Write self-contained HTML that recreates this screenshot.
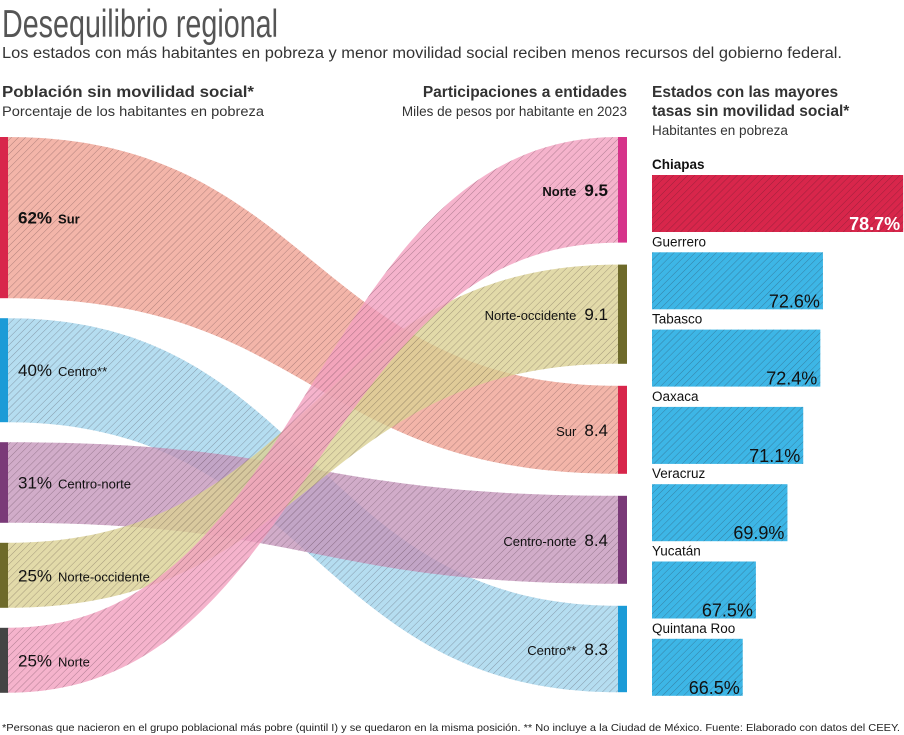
<!DOCTYPE html>
<html><head><meta charset="utf-8">
<style>
html,body{margin:0;padding:0;background:#fff;}
svg{display:block;font-family:"Liberation Sans",sans-serif;}
</style></head>
<body>
<svg id="chart" width="904" height="735" viewBox="0 0 904 735">
<defs>
<pattern id="hatch" patternUnits="userSpaceOnUse" width="5" height="5" patternTransform="rotate(45)">
<line x1="0" y1="0" x2="0" y2="5" stroke="rgba(40,20,30,0.33)" stroke-width="1"/>
</pattern>
</defs>
<text x="2" y="37" font-family="'Liberation Sans Narrow','Liberation Sans',sans-serif" font-size="39" fill="#555" textLength="276" lengthAdjust="spacingAndGlyphs">Desequilibrio regional</text>
<text x="2" y="58" font-size="15.5" fill="#333" textLength="840" lengthAdjust="spacingAndGlyphs">Los estados con más habitantes en pobreza y menor movilidad social reciben menos recursos del gobierno federal.</text>
<text x="2" y="97" font-size="15.5" font-weight="bold" fill="#333" textLength="252" lengthAdjust="spacingAndGlyphs">Población sin movilidad social*</text>
<text x="2" y="116" font-size="13.5" fill="#333" textLength="262" lengthAdjust="spacingAndGlyphs">Porcentaje de los habitantes en pobreza</text>
<text x="627" y="97" font-size="15.5" font-weight="bold" fill="#333" text-anchor="end">Participaciones a entidades</text>
<text x="627" y="116" font-size="13.5" fill="#333" text-anchor="end">Miles de pesos por habitante en 2023</text>
<text x="652" y="97" font-size="15.5" font-weight="bold" fill="#333">Estados con las mayores</text>
<text x="652" y="116" font-size="15.5" font-weight="bold" fill="#333">tasas sin movilidad social*</text>
<text x="652" y="135" font-size="13.5" fill="#333">Habitantes en pobreza</text>
<g id="flows"></g>
<g id="bars"></g>
<text x="2" y="731" font-size="10.5" fill="#222" textLength="898" lengthAdjust="spacingAndGlyphs">*Personas que nacieron en el grupo poblacional más pobre (quintil I) y se quedaron en la misma posición. ** No incluye a la Ciudad de México. Fuente: Elaborado con datos del CEEY.</text>
</svg>
<script>
const regions = ['Sur','Centro','Centro-norte','Norte-occidente','Norte'];
const regionLabels = ['Sur','Centro**','Centro-norte','Norte-occidente','Norte'];
const leftPct = [62,40,31,25,25];
const rightOrder = ['Norte','Norte-occidente','Sur','Centro-norte','Centro'];
const rightVals = [9.5,9.1,8.4,8.4,8.3];
const states = ['Chiapas','Guerrero','Tabasco','Oaxaca','Veracruz','Yucatán','Quintana Roo'];
const stateVals = [78.7,72.6,72.4,71.1,69.9,67.5,66.5];

const NS='http://www.w3.org/2000/svg';
const barColor={'Sur':'#d8264b','Centro':'#1b9bd7','Centro-norte':'#7a3a78','Norte-occidente':'#6e6a2a','Norte':'#444'};
const rightBarColor={'Sur':'#d8264b','Centro':'#1b9bd7','Centro-norte':'#7a3a78','Norte-occidente':'#6e6a2a','Norte':'#d6338a'};
const flowColor={'Sur':'#f0a294','Centro':'#a2d4ec','Centro-norte':'#c597bb','Norte-occidente':'#dbd193','Norte':'#f2a0bf'};
function mk(tag,attrs,parent){const e=document.createElementNS(NS,tag);for(const k in attrs)e.setAttribute(k,attrs[k]);parent.appendChild(e);return e;}

const leftScale=p=>p*2.6, leftGap=20, leftTop=137;
const rightScale=v=>(v-2.9)*16, rightGap=22, rightTop=137;
const L={},R={};
let y=leftTop;
regions.forEach((r,i)=>{const h=leftScale(leftPct[i]);L[r]={y0:y,y1:y+h,i};y+=h+leftGap;});
y=rightTop;
rightOrder.forEach((r,i)=>{const h=rightScale(rightVals[i]);R[r]={y0:y,y1:y+h,i};y+=h+rightGap;});

const flows=document.getElementById('flows');
const x0=8,x1=618,cx=(x0+x1)/2;
regions.forEach(r=>{
  const a=L[r],b=R[r];
  const d=`M${x0},${a.y0} C${cx},${a.y0} ${cx},${b.y0} ${x1},${b.y0} L${x1},${b.y1} C${cx},${b.y1} ${cx},${a.y1} ${x0},${a.y1} Z`;
  const p=mk('path',{d,fill:flowColor[r],'fill-opacity':'0.8'},flows);
  
  
  const h=mk('path',{d,fill:'url(#hatch)'},flows);
  
  
});
const bars=document.getElementById('bars');
regions.forEach((r,i)=>{
  const a=L[r];
  const b=mk('rect',{x:0,y:a.y0,width:8,height:a.y1-a.y0,fill:barColor[r]},bars);
  
  
  const t=mk('text',{x:18,y:(a.y0+a.y1)/2+6,'font-size':17,fill:'#111','font-weight':i==0?'bold':'normal'},bars);
  
  
  const s1=mk('tspan',{},t);s1.textContent=leftPct[i]+'%';
  const s2=mk('tspan',{'font-size':13,dx:6},t);s2.textContent=regionLabels[i];
});
rightOrder.forEach((r,i)=>{
  const a=R[r];
  const b=mk('rect',{x:618,y:a.y0,width:9,height:a.y1-a.y0,fill:rightBarColor[r]},bars);
  
  
  const t=mk('text',{x:608,y:(a.y0+a.y1)/2+6,'font-size':17,fill:'#111','text-anchor':'end','font-weight':i==0?'bold':'normal'},bars);
  
  
  const lab=regionLabels[regions.indexOf(r)];
  const s1=mk('tspan',{'font-size':13},t);s1.textContent=lab;
  const s2=mk('tspan',{dx:8},t);s2.textContent=rightVals[i].toFixed(1);
});
const sx=v=>(v-59.6)*13.15;
states.forEach((s,i)=>{
  const yy=175+i*77.3, w=sx(stateVals[i]), h=57;
  const lab=mk('text',{x:652,y:yy-6,'font-size':13.5,fill:'#111','font-weight':i==0?'bold':'normal'},bars);
  lab.textContent=s;
  
  
  const r=mk('rect',{x:652,y:yy,width:w,height:h,fill:i==0?'#d8264b':'#3db6e6'},bars);
  
  
  mk('rect',{x:652,y:yy,width:w,height:h,fill:'url(#hatch)'},bars);
  const v=mk('text',{x:652+w-3,y:yy+h-2,'font-size':18,fill:i==0?'#fff':'#111','text-anchor':'end','font-weight':i==0?'bold':'normal'},bars);
  v.textContent=stateVals[i].toFixed(1)+'%';
  
  
});
</script>
</body></html>
